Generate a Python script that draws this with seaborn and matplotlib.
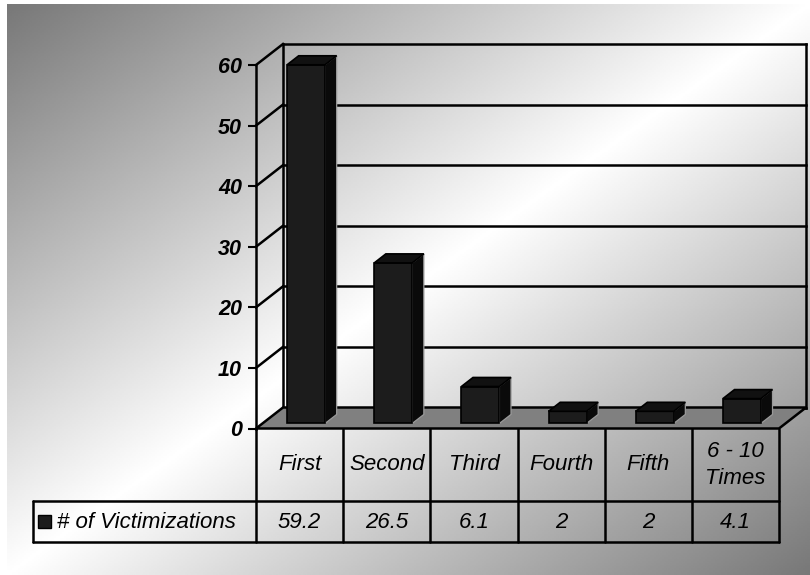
import numpy as np
import matplotlib
matplotlib.use("Agg")
import matplotlib.pyplot as plt
import matplotlib.transforms as mtransforms
from matplotlib.patches import Polygon, Rectangle
import seaborn as sns

# ---- data -------------------------------------------------------------
categories = ["First", "Second", "Third", "Fourth", "Fifth", "6 - 10\nTimes"]
victimizations = [59.2, 26.5, 6.1, 2, 2, 4.1]
value_labels = ["59.2", "26.5", "6.1", "2", "2", "4.1"]
series_name = "# of Victimizations"
y_ticks = [0, 10, 20, 30, 40, 50, 60]

sns.set_theme(style="white")
plt.rcParams["font.family"] = ["Liberation Sans", "DejaVu Sans"]

W, H = 810, 575
fig = plt.figure(figsize=(W / 100, H / 100), dpi=100)
fig.patch.set_facecolor("white")

# pixel transform (origin at the top-left corner of the figure)
px = mtransforms.Affine2D().scale(1 / W, -1 / H).translate(0, 1) + fig.transFigure

# ---- diagonal grey -> white -> grey backdrop --------------------------
bg = fig.add_axes([7 / W, 0, 1 - 7 / W, 1 - 4 / H], zorder=-10)
gx, gy = np.meshgrid(np.linspace(0, 1, 400), np.linspace(0, 1, 300))
u = (gx + gy) / 2
shade = 0.47 + 0.53 * (1 - np.abs(2 * u - 1))
bg.imshow(shade, cmap="gray", vmin=0, vmax=1, aspect="auto",
          interpolation="bilinear")
bg.set_axis_off()

# ---- main axes = front plane of the 3-D box ---------------------------
x0_px, x1_px, y0_px, y1_px = 256, 779, 428.5, 65
ax = fig.add_axes([x0_px / W, (H - y0_px) / H,
                   (x1_px - x0_px) / W, (y0_px - y1_px) / H])
ax.set_facecolor("none")

n = len(categories)
ax.set_xlim(-0.5, n - 0.5)
ax.set_ylim(0, 60)

# depth vector of the box in data units
unit_x = (x1_px - x0_px) / n
unit_y = (y0_px - y1_px) / 60
DX, DY = 27 / unit_x, 21 / unit_y
xl, xr = -0.5, n - 0.5
edge = dict(color="black", lw=1.8, clip_on=False, solid_capstyle="projecting")

# back wall and its gridlines
for v in y_ticks:
    ax.plot([xl + DX, xr + DX], [v + DY, v + DY], zorder=1, **edge)
ax.plot([xl + DX, xl + DX], [DY, 60 + DY], zorder=1, **edge)
ax.plot([xr + DX, xr + DX], [DY, 60 + DY], zorder=1, **edge)
# left side wall
for v in y_ticks[1:]:
    ax.plot([xl, xl + DX], [v, v + DY], zorder=1, **edge)

# floor
floor = Polygon([(xl, 0), (xr, 0), (xr + DX, DY), (xl + DX, DY)],
                closed=True, facecolor="#808080", edgecolor="black",
                lw=1.8, zorder=2, clip_on=False)
ax.add_patch(floor)

# bars (front faces) through seaborn
bar_w = 38 / unit_x
sns.barplot(x=list(range(n)), y=victimizations, ax=ax, color="#1c1c1c",
            saturation=1, width=bar_w, edgecolor="black", linewidth=1.2,
            zorder=4, native_scale=True)

f_front, f_depth = 0.24, 0.43
shift = mtransforms.Affine2D().translate(f_front * DX, f_front * DY)
bdx, bdy = f_depth * DX, f_depth * DY
for bar in ax.patches[1:]:
    bar.set_transform(shift + ax.transData)
    bar.set_clip_on(False)
    bx, bw, bh = bar.get_x(), bar.get_width(), bar.get_height()
    x_a = bx + f_front * DX
    x_b = x_a + bw
    y_a = f_front * DY
    y_b = bh + f_front * DY
    top = Polygon([(x_a, y_b), (x_b, y_b), (x_b + bdx, y_b + bdy),
                   (x_a + bdx, y_b + bdy)], closed=True,
                  facecolor="#111111", edgecolor="black", lw=1.2,
                  zorder=4, clip_on=False)
    side = Polygon([(x_b, y_a), (x_b, y_b), (x_b + bdx, y_b + bdy),
                    (x_b + bdx, y_a + bdy)], closed=True,
                   facecolor="#0a0a0a", edgecolor="#9a9a9a", lw=0.9,
                   zorder=3.9, clip_on=False)
    ax.add_patch(side)
    ax.add_patch(top)

# front value axis
for s in ["top", "right", "bottom"]:
    ax.spines[s].set_visible(False)
ax.spines["left"].set_linewidth(1.8)
ax.spines["left"].set_color("black")
ax.spines["left"].set_zorder(6)
ax.set_yticks(y_ticks)
ax.set_yticklabels([str(t) for t in y_ticks], fontsize=15.5,
                   fontweight="bold", fontstyle="italic")
ax.tick_params(axis="y", left=True, length=6, width=1.5, color="black",
               pad=4, labelcolor="black")
ax.set_xticks([])
ax.set_xlabel("")
ax.set_ylabel("")

# ---- data table under the chart ---------------------------------------
col_px = np.linspace(x0_px, x1_px, n + 1)
row_top, row_mid, row_bot = 429, 501, 542
leg_left = 33
tl = dict(color="black", lw=1.8, transform=px, clip_on=False)
fig.add_artist(plt.Line2D([leg_left, x1_px], [row_mid, row_mid], **tl))
fig.add_artist(plt.Line2D([leg_left, x1_px], [row_bot, row_bot], **tl))
fig.add_artist(plt.Line2D([leg_left, leg_left], [row_mid, row_bot], **tl))
for cx in col_px:
    fig.add_artist(plt.Line2D([cx, cx], [row_top, row_bot], **tl))

cell_font = dict(fontsize=16, fontstyle="italic", color="black",
                 ha="center", va="center", transform=px)
for i, (lab, val) in enumerate(zip(categories, value_labels)):
    cx = (col_px[i] + col_px[i + 1]) / 2
    fig.text(cx, (row_top + row_mid) / 2, lab, linespacing=1.4, **cell_font)
    fig.text(cx, (row_mid + row_bot) / 2 + 1, val, **cell_font)

# legend key + series name
fig.add_artist(Rectangle((38, 515), 13, 13, transform=px,
                         facecolor="#1c1c1c", edgecolor="black", lw=1))
fig.text(57, (row_mid + row_bot) / 2 + 1, series_name, fontsize=16,
         fontstyle="italic", color="black", ha="left", va="center",
         transform=px)

fig.savefig("out.png", dpi=100)
